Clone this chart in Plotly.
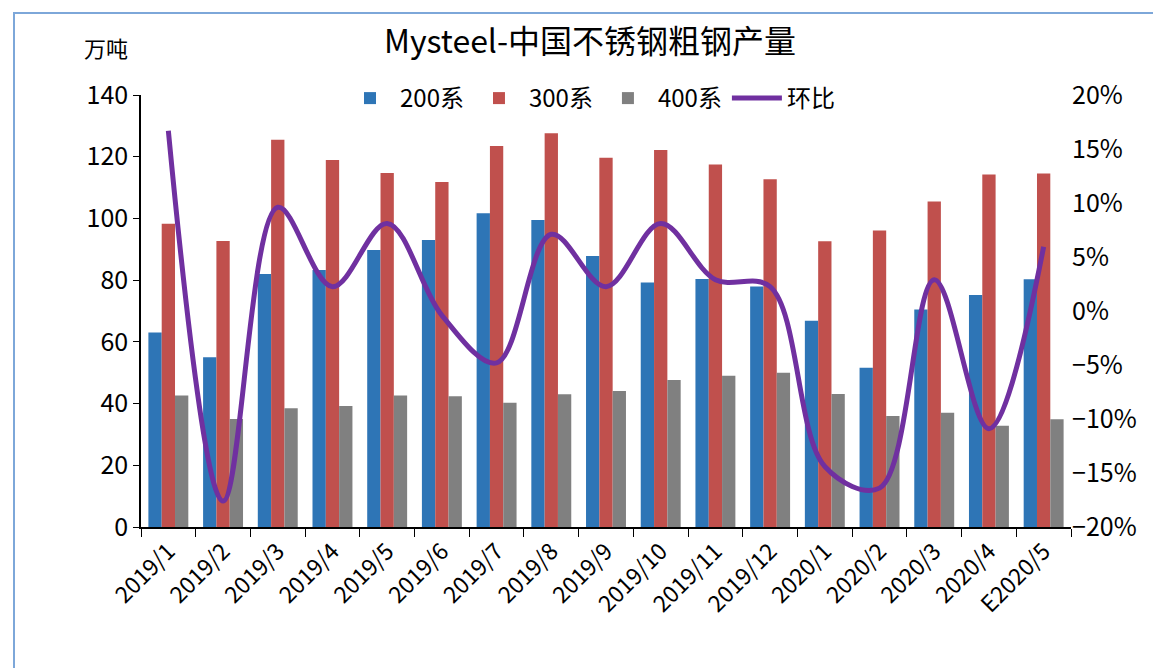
import plotly.graph_objects as go

categories = ["2019/1", "2019/2", "2019/3", "2019/4", "2019/5", "2019/6", "2019/7", "2019/8",
              "2019/9", "2019/10", "2019/11", "2019/12", "2020/1", "2020/2", "2020/3", "2020/4", "E2020/5"]
s200 = [63.0, 55.0, 82.0, 83.3, 89.8, 93.0, 101.7, 99.5, 87.8, 79.2, 80.4, 77.9, 66.8, 51.6, 70.5, 75.2, 80.3]
s300 = [98.3, 92.7, 125.5, 118.9, 114.7, 111.8, 123.5, 127.6, 119.7, 122.2, 117.5, 112.7, 92.6, 96.1, 105.5, 114.2, 114.6]
s400 = [42.6, 35.0, 38.5, 39.2, 42.6, 42.4, 40.3, 43.0, 44.1, 47.6, 49.0, 50.0, 43.1, 36.0, 37.0, 32.8, 34.9]
mom = [0.167, -0.176, 0.096, 0.0225, 0.081, -0.004, -0.048, 0.071, 0.0225, 0.081, 0.029, 0.0225,
       -0.144, -0.164, 0.029, -0.109, 0.0595]

FONT = "Noto Sans CJK SC, Noto Sans, sans-serif"

fig = go.Figure()
fig.add_trace(go.Bar(x=categories, y=s200, name="200系", marker=dict(color="#2E75B6", line=dict(width=0))))
fig.add_trace(go.Bar(x=categories, y=s300, name="300系", marker=dict(color="#C0504D", line=dict(width=0))))
fig.add_trace(go.Bar(x=categories, y=s400, name="400系", marker=dict(color="#808080", line=dict(width=0))))
fig.add_trace(go.Scatter(x=categories, y=mom, name="环比", yaxis="y2", mode="lines",
                         line=dict(color="#7030A0", width=5, shape="spline", smoothing=1.0)))

OFF = 8  # page body margin in the screenshot
W, H = 1161 - OFF, 668 - OFF
# target plot area in screenshot coordinates
X0, X1, Y0, Y1 = 141, 1071, 95, 527
L, T = X0 - OFF, Y0 - OFF
R = W - (X1 - OFF)
B = H - (Y1 - OFF)
pw, ph = X1 - X0, Y1 - Y0

def px(x):
    return (x - X0) / pw

def py(y):
    return (Y1 - y) / ph

fig.update_layout(
    width=W, height=H,
    margin=dict(l=L, r=R, t=T, b=B, autoexpand=False),
    paper_bgcolor="white", plot_bgcolor="white",
    font=dict(family=FONT, color="black"),
    barmode="group", bargap=0.27, bargroupgap=0,
    title=dict(text="Mysteel-中国不锈钢粗钢产量", x=px(590), xref="paper", xanchor="center",
               y=1 - (42 - OFF) / H, yref="container", yanchor="middle",
               font=dict(size=32, family=FONT, color="black")),
    legend=dict(orientation="h", x=px(590), xanchor="center", y=py(76), yanchor="top",
                font=dict(size=24, family=FONT), bgcolor="rgba(0,0,0,0)",
                traceorder="normal", itemwidth=50, tracegroupgap=0),
    xaxis=dict(type="category", showline=True, linecolor="black", linewidth=1.5,
               ticks="outside", tickson="boundaries", ticklen=8, tickcolor="black",
               tickangle=-45, tickfont=dict(size=23, family=FONT), showgrid=False),
    yaxis=dict(range=[0, 140], dtick=20, showline=True, linecolor="black", linewidth=1.5,
               ticks="outside", ticklen=6, tickcolor="black", showgrid=False, zeroline=False,
               tickfont=dict(size=25, family=FONT)),
    yaxis2=dict(range=[-0.2, 0.2], dtick=0.05, tickformat=".0%", overlaying="y", side="right",
                showline=False, ticks="", showgrid=False, zeroline=False,
                tickfont=dict(size=25, family=FONT)),
    annotations=[dict(text="万吨", x=px(106), y=py(47), xref="paper", yref="paper",
                      xanchor="center", yanchor="middle",
                      showarrow=False, font=dict(size=22, family=FONT))],
    shapes=[dict(type="rect", xref="paper", yref="paper", x0=px(14), x1=px(1157),
                 y0=py(720), y1=py(13), line=dict(color="#7DA7D9", width=2), layer="below")],
)

fig.write_html("out.html")
